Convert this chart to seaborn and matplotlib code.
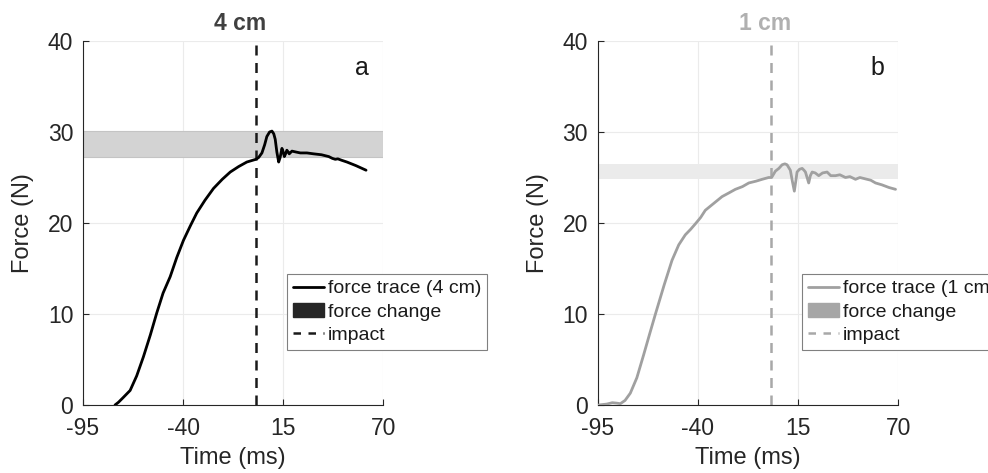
import matplotlib
matplotlib.use("Agg")
import matplotlib.pyplot as plt
import seaborn as sns
import pandas as pd
from matplotlib.lines import Line2D
from matplotlib.patches import Patch

# ---- data ----
t_a = [-77.4, -75.5, -73.0, -69.1, -65.5, -61.8, -58.0, -54.5, -51.0, -47.1, -43.5, -39.8,
       -36.0, -32.5, -28.0, -23.3, -18.5, -14.1, -9.5, -5.0, 0.0, 1.5, 3.3, 4.8, 6.0, 7.5,
       8.8, 9.8, 10.6, 11.5, 12.5, 13.3, 14.3, 15.0, 15.6, 16.3, 17.0, 17.7, 18.3, 19.8,
       22.0, 24.4, 28.0, 31.7, 36.0, 40.0, 42.0, 43.6, 45.0, 47.0, 50.0, 55.0, 60.5]
f_a = [0.0, 0.3, 0.8, 1.6, 3.2, 5.3, 7.7, 10.1, 12.3, 14.1, 16.2, 18.1,
       19.7, 21.1, 22.5, 23.8, 24.8, 25.6, 26.2, 26.7, 27.0, 27.2, 27.7, 28.6, 29.5, 30.0,
       30.1, 29.8, 29.2, 27.8, 26.7, 27.2, 28.2, 27.8, 27.3, 27.6, 28.0, 27.8, 27.6, 27.9,
       27.8, 27.7, 27.7, 27.6, 27.5, 27.3, 27.1, 27.0, 27.05, 26.9, 26.7, 26.3, 25.8]

t_b = [-94.4, -90.0, -87.0, -84.5, -82.6, -80.0, -77.1, -73.5, -69.8, -66.5, -63.3, -58.5,
       -54.2, -50.5, -46.9, -44.0, -41.4, -38.5, -35.9, -31.0, -26.7, -23.0, -19.4, -15.5,
       -12.0, -8.0, -4.7, -1.1, 0.5, 2.6, 4.5, 6.3, 7.8, 9.0, 10.8, 12.0, 13.0, 13.8, 14.5,
       15.8, 17.3, 18.3, 19.1, 20.0, 20.9, 21.8, 22.8, 24.5, 26.4, 28.5, 31.0, 33.0, 35.6,
       38.0, 41.1, 43.5, 46.6, 49.0, 53.0, 55.0, 57.6, 61.0, 65.0, 68.6]
f_b = [0.0, 0.1, 0.25, 0.2, 0.14, 0.5, 1.3, 3.0, 5.5, 7.8, 10.0, 13.2,
       15.9, 17.6, 18.7, 19.3, 19.9, 20.6, 21.4, 22.2, 22.9, 23.3, 23.7, 24.0,
       24.4, 24.6, 24.8, 25.0, 25.0, 25.7, 26.0, 26.4, 26.5, 26.4, 25.8, 24.5, 23.5, 24.6, 25.6,
       25.9, 26.0, 25.8, 25.6, 25.0, 24.4, 25.2, 25.6, 25.5, 25.2, 25.5, 25.6, 25.2, 25.2,
       25.3, 25.0, 25.1, 24.8, 25.0, 24.8, 24.7, 24.4, 24.2, 23.9, 23.7]

band_a = (27.2, 30.1)
band_b = (24.8, 26.5)
impact = 0.0
titles = ["4 cm", "1 cm"]
letters = ["a", "b"]
trace_labels = ["force trace (4 cm)", "force trace (1 cm)"]
xticks = [-95, -40, 15, 70]
yticks = [0, 10, 20, 30, 40]

sns.set_theme(style="whitegrid")
plt.rcParams['font.family'] = ['Liberation Sans', 'DejaVu Sans']
plt.rcParams['axes.unicode_minus'] = False

fig = plt.figure(figsize=(9.88, 4.73), dpi=100)
ax_a = fig.add_axes([0.084, 0.1438, 0.304, 0.7695])
ax_b = fig.add_axes([0.605, 0.1438, 0.304, 0.7695])

panels = [
    (ax_a, t_a, f_a, band_a, "#000000", "#d3d3d3", "#262626", "#1a1a1a", "#404040", 0.523),
    (ax_b, t_b, f_b, band_b, "#a0a0a0", "#ebebeb", "#a6a6a6", "#a8a8a8", "#b0b0b0", 0.557),
]

for i, (ax, t, f, band, lc, bc, pc, ic, tc, tx) in enumerate(panels):
    df = pd.DataFrame({"t": t, "f": f})
    ax.axhspan(band[0], band[1], facecolor=bc, edgecolor="#c4c4c4" if i == 0 else "none",
               lw=0.8, zorder=1)
    sns.lineplot(data=df, x="t", y="f", ax=ax, color=lc, lw=2.0, zorder=3)
    ax.axvline(impact, color=ic, lw=1.8, ls=(0, (4, 3)), zorder=2)
    ax.set_xlim(-95, 70)
    ax.set_ylim(0, 40)
    ax.set_xticks(xticks)
    ax.set_yticks(yticks)
    ax.grid(True, color="#ebebeb", lw=0.8)
    ax.set_facecolor("white")
    for s in ["top", "right"]:
        ax.spines[s].set_visible(False)
    for s in ["left", "bottom"]:
        ax.spines[s].set_visible(True)
        ax.spines[s].set_color("#262626")
        ax.spines[s].set_linewidth(0.8)
    ax.tick_params(axis="both", direction="in", length=4, width=0.8, colors="#262626",
                   labelsize=16.5, left=True, bottom=True)
    ax.tick_params(axis="x", pad=9)
    ax.tick_params(axis="y", pad=7)
    ax.set_xlabel("Time (ms)", fontsize=17, color="#262626", labelpad=5)
    ax.set_ylabel("Force (N)", fontsize=17, color="#262626", labelpad=10)
    ax.set_title(titles[i], fontsize=16.5, fontweight="bold", color=tc, x=tx, pad=8)
    ax.text(0.93, 0.925, letters[i], transform=ax.transAxes, fontsize=18,
            color="#1a1a1a", ha="center", va="center")
    handles = [Line2D([0], [0], color=lc, lw=2.0),
               Patch(facecolor=pc, edgecolor=pc),
               Line2D([0], [0], color=ic, lw=1.8, ls=(0, (3, 3)))]
    leg = ax.legend(handles, [trace_labels[i], "force change", "impact"],
                    loc="upper left", bbox_to_anchor=(0.68, 0.36), fontsize=14,
                    frameon=True, fancybox=False, framealpha=1, edgecolor="#808080",
                    handlelength=1.6, handletextpad=0.2, borderpad=0.3,
                    labelspacing=0.3, borderaxespad=0)
    leg.get_frame().set_linewidth(0.8)
    for txt in leg.get_texts():
        txt.set_color("#1a1a1a")

fig.savefig("out.png", dpi=100)
